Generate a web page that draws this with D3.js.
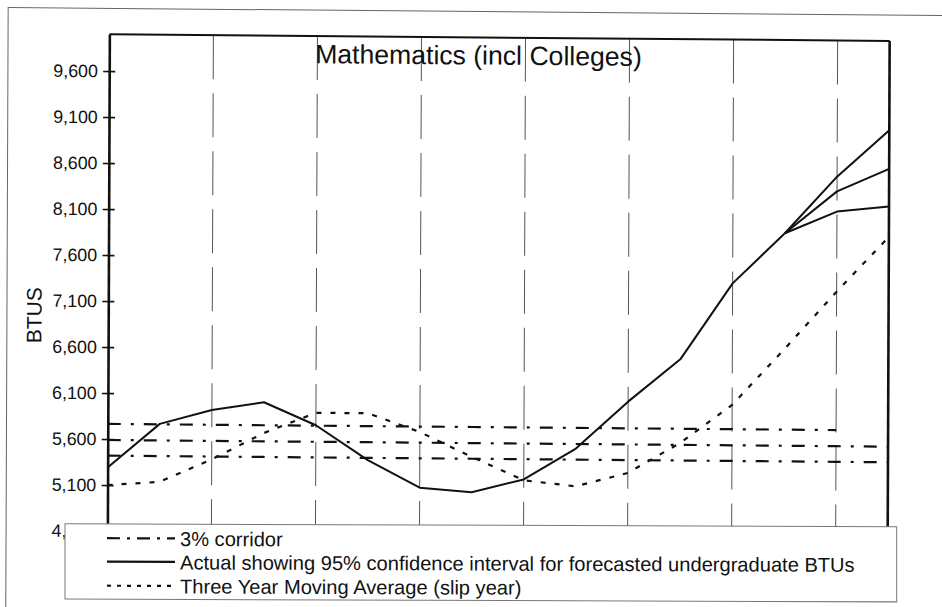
<!DOCTYPE html>
<html>
<head>
<meta charset="utf-8">
<script src="https://cdn.jsdelivr.net/npm/d3@7"></script>
<style>
  html, body { margin: 0; padding: 0; background: #fff; }
  svg { display: block; }
  text { font-family: "Liberation Sans", Arial, Helvetica, sans-serif; fill: #111; }
</style>
</head>
<body>
<svg id="chart" width="942" height="607"></svg>
<script>
// ---------------- data ----------------
const title = "Mathematics (incl Colleges)";
const yLabel = "BTUS";
const periods = [0, 1, 2, 3, 4, 5, 6, 7, 8, 9, 10, 11, 12, 13, 14, 15];
const gridPeriods = [2, 4, 6, 8, 10, 12, 14];
const yTicks = [4600, 5100, 5600, 6100, 6600, 7100, 7600, 8100, 8600, 9100, 9600];

const actualPeriods = [0, 1, 2, 3, 4, 5, 6, 7, 8, 9, 10, 11, 12, 13];
const actual = [5290, 5770, 5925, 6015, 5770, 5395, 5100, 5055, 5200, 5540, 6055, 6520, 7350, 7900];

const forecastPeriods = [13, 14, 15];
const forecastHigh = [7900, 8520, 9030];
const forecastMid = [7900, 8360, 8610];
const forecastLow = [7900, 8140, 8200];

const movingAvg = [5100, 5140, 5390, 5680, 5905, 5905, 5705, 5440, 5190, 5130, 5280, 5610, 6030, 6640, 7270, 7870];

const corridorUpperPeriods = [0, 1, 2, 3, 4, 5, 6, 7, 8, 9, 10, 11, 12, 13, 14];
const corridorUpper = [5765, 5765, 5765, 5765, 5765, 5765, 5765, 5765, 5765, 5765, 5765, 5765, 5765, 5765, 5765];
const corridorMid = [5590, 5590, 5590, 5590, 5590, 5590, 5590, 5590, 5590, 5590, 5590, 5590, 5590, 5590, 5590, 5590];
const corridorLower = [5420, 5420, 5420, 5420, 5420, 5420, 5420, 5420, 5420, 5420, 5420, 5420, 5420, 5420, 5420, 5420];

const legendItems = [
  { label: "3% corridor", style: "corridor" },
  { label: "Actual showing 95% confidence interval for forecasted undergraduate BTUs", style: "solid" },
  { label: "Three Year Moving Average (slip year)", style: "dotted" }
];

// ---------------- layout ----------------
const svg = d3.select("#chart");
svg.append("rect").attr("width", 942).attr("height", 607).attr("fill", "#fff");

const cx = 475, cy = 303;
const g = svg.append("g")
  .attr("transform", `translate(${cx},${cy}) matrix(1,0.0085,-0.004,1,0,0) translate(${-cx},${-cy})`);

const L = 108.3, R = 888.6, T = 37.4, B = 534.2;

const x = d3.scalePoint().domain(periods).range([L, R]).padding(0);
const y = d3.scaleLinear().domain([4600, 10000]).range([B, T]);

// outer frame (right and bottom run off the page)
g.append("rect")
  .attr("x", 7).attr("y", 11.5).attr("width", 980).attr("height", 640)
  .attr("fill", "none").attr("stroke", "#666").attr("stroke-width", 1);

// vertical gridlines
g.append("g").selectAll("line").data(gridPeriods).join("line")
  .attr("x1", d => x(d)).attr("x2", d => x(d))
  .attr("y1", T).attr("y2", B)
  .attr("stroke", "#555").attr("stroke-width", 1)
  .attr("stroke-dasharray", "44,14");

// plot frame
g.append("line").attr("x1", L).attr("x2", R).attr("y1", T).attr("y2", T)
  .attr("stroke", "#111").attr("stroke-width", 2);
g.append("line").attr("x1", R).attr("x2", R).attr("y1", T).attr("y2", B)
  .attr("stroke", "#111").attr("stroke-width", 2.6);

// y axis
const yAxis = g.append("g").attr("transform", `translate(${L},0)`)
  .call(d3.axisLeft(y).tickValues(yTicks).tickFormat(d3.format(","))
        .tickSize(6).tickSizeOuter(0).tickPadding(5.3));
yAxis.select(".domain").attr("stroke", "#111").attr("stroke-width", 2.6);
yAxis.selectAll(".tick line").attr("x1", 6).attr("stroke", "#111").attr("stroke-width", 1.6);
yAxis.selectAll(".tick text")
  .attr("font-size", 17.8)
  .attr("font-family", "'Liberation Sans', Arial, sans-serif")
  .attr("fill", "#111");

// y axis title
g.append("text")
  .attr("transform", `translate(41.5,318.9) rotate(-90)`)
  .attr("text-anchor", "middle")
  .attr("font-size", 21)
  .text(yLabel);

// title
g.append("text")
  .attr("x", 477.5).attr("y", 64.5)
  .attr("text-anchor", "middle")
  .attr("font-size", 26.6)
  .text(title);

// series
const lineGen = (ps) => d3.line().x((d, i) => x(ps[i])).y(d => y(d));

const corridorDash = "13,10,3,10";
[[corridorUpperPeriods, corridorUpper], [periods, corridorMid], [periods, corridorLower]].forEach(([ps, vals]) => {
  g.append("path").datum(vals)
    .attr("d", lineGen(ps))
    .attr("fill", "none").attr("stroke", "#111").attr("stroke-width", 2.2)
    .attr("stroke-dasharray", corridorDash);
});

g.append("path").datum(movingAvg)
  .attr("d", lineGen(periods))
  .attr("fill", "none").attr("stroke", "#111").attr("stroke-width", 2.2)
  .attr("stroke-dasharray", "5,9");

g.append("path").datum(actual)
  .attr("d", lineGen(actualPeriods))
  .attr("fill", "none").attr("stroke", "#111").attr("stroke-width", 2)
  .attr("stroke-linejoin", "round");

[forecastHigh, forecastMid, forecastLow].forEach(vals => {
  g.append("path").datum(vals)
    .attr("d", lineGen(forecastPeriods))
    .attr("fill", "none").attr("stroke", "#111").attr("stroke-width", 2)
    .attr("stroke-linejoin", "round");
});

// legend
const lg = svg.append("g")
  .attr("transform", `translate(475,560) matrix(1,0.0035,0,1,0,0) translate(-475,-560)`);
lg.append("rect")
  .attr("x", 65).attr("y", 525.2).attr("width", 831.7).attr("height", 75.2)
  .attr("fill", "#fff").attr("stroke", "#777").attr("stroke-width", 1);

const rowBase = [547, 570.5, 594.5];
const sampleDash = { corridor: "13,7,3,7", solid: null, dotted: "4,6" };
legendItems.forEach((it, i) => {
  const ly = rowBase[i] - 7.5;
  lg.append("line")
    .attr("x1", 107).attr("x2", 175).attr("y1", ly).attr("y2", ly)
    .attr("stroke", "#111").attr("stroke-width", 2.2)
    .attr("stroke-dasharray", sampleDash[it.style]);
  lg.append("text")
    .attr("x", 180).attr("y", rowBase[i])
    .attr("font-size", 20.1)
    .text(it.label);
});
</script>
</body>
</html>
